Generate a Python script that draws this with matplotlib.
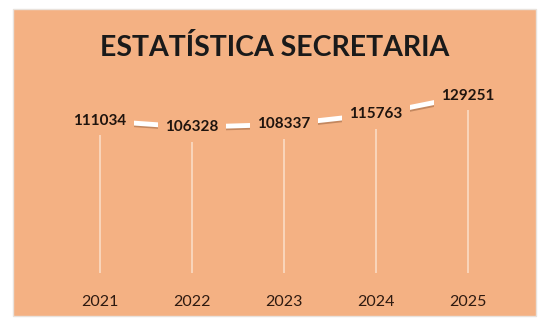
import matplotlib.pyplot as plt
import matplotlib.patheffects as pe
from matplotlib.patches import Rectangle

# dados
anos = ['2021', '2022', '2023', '2024', '2025']
valores = [111034, 106328, 108337, 115763, 129251]

fundo = '#F4B183'
texto = '#3a2418'

fig = plt.figure(figsize=(5.44, 3.18), dpi=100)
fig.patch.set_facecolor('white')

# painel laranja do grafico
fig.patches.append(Rectangle((13 / 544, 2 / 318), 523 / 544, 307 / 318,
                             transform=fig.transFigure, facecolor=fundo,
                             edgecolor='#e9e2dc', lw=1, zorder=-1))

ax = fig.add_axes([54 / 544, 45 / 318, 460 / 544, 192 / 318])
ax.set_facecolor('none')
ax.set_zorder(1)
x = range(len(anos))

# linhas de queda
ax.vlines(x, 0, valores, colors='#fbdcc4', lw=1.2, zorder=1)

ax.plot(x, valores, color='white', lw=3.5, solid_capstyle='butt', zorder=2,
        path_effects=[pe.SimpleLineShadow(offset=(0.8, -1.2), shadow_color='#7a4a2a', alpha=0.4),
                      pe.Normal()])

for i, v in zip(x, valores):
    ax.text(i, v, str(v), ha='center', va='center', fontsize=11, fontweight='bold',
            family='Lato', color='#1f140e', zorder=3,
            bbox=dict(boxstyle='square,pad=0.5', facecolor=fundo, edgecolor='none'))

ax.set_xlim(-0.5, 4.5)
ax.set_ylim(0, 140000)
ax.set_xticks(list(x))
ax.set_xticklabels(anos, family='Lato', fontsize=11.5, color='#2e1a10')
ax.tick_params(axis='x', length=0, pad=16)
ax.set_yticks([])
for s in ax.spines.values():
    s.set_visible(False)

fig.text(0.505, 1 - 47 / 318, 'ESTATÍSTICA SECRETARIA', ha='center', va='center',
         fontsize=20.5, fontweight='bold', family='Lato', color='#1a1a1a')

fig.savefig('out.png', dpi=100)
